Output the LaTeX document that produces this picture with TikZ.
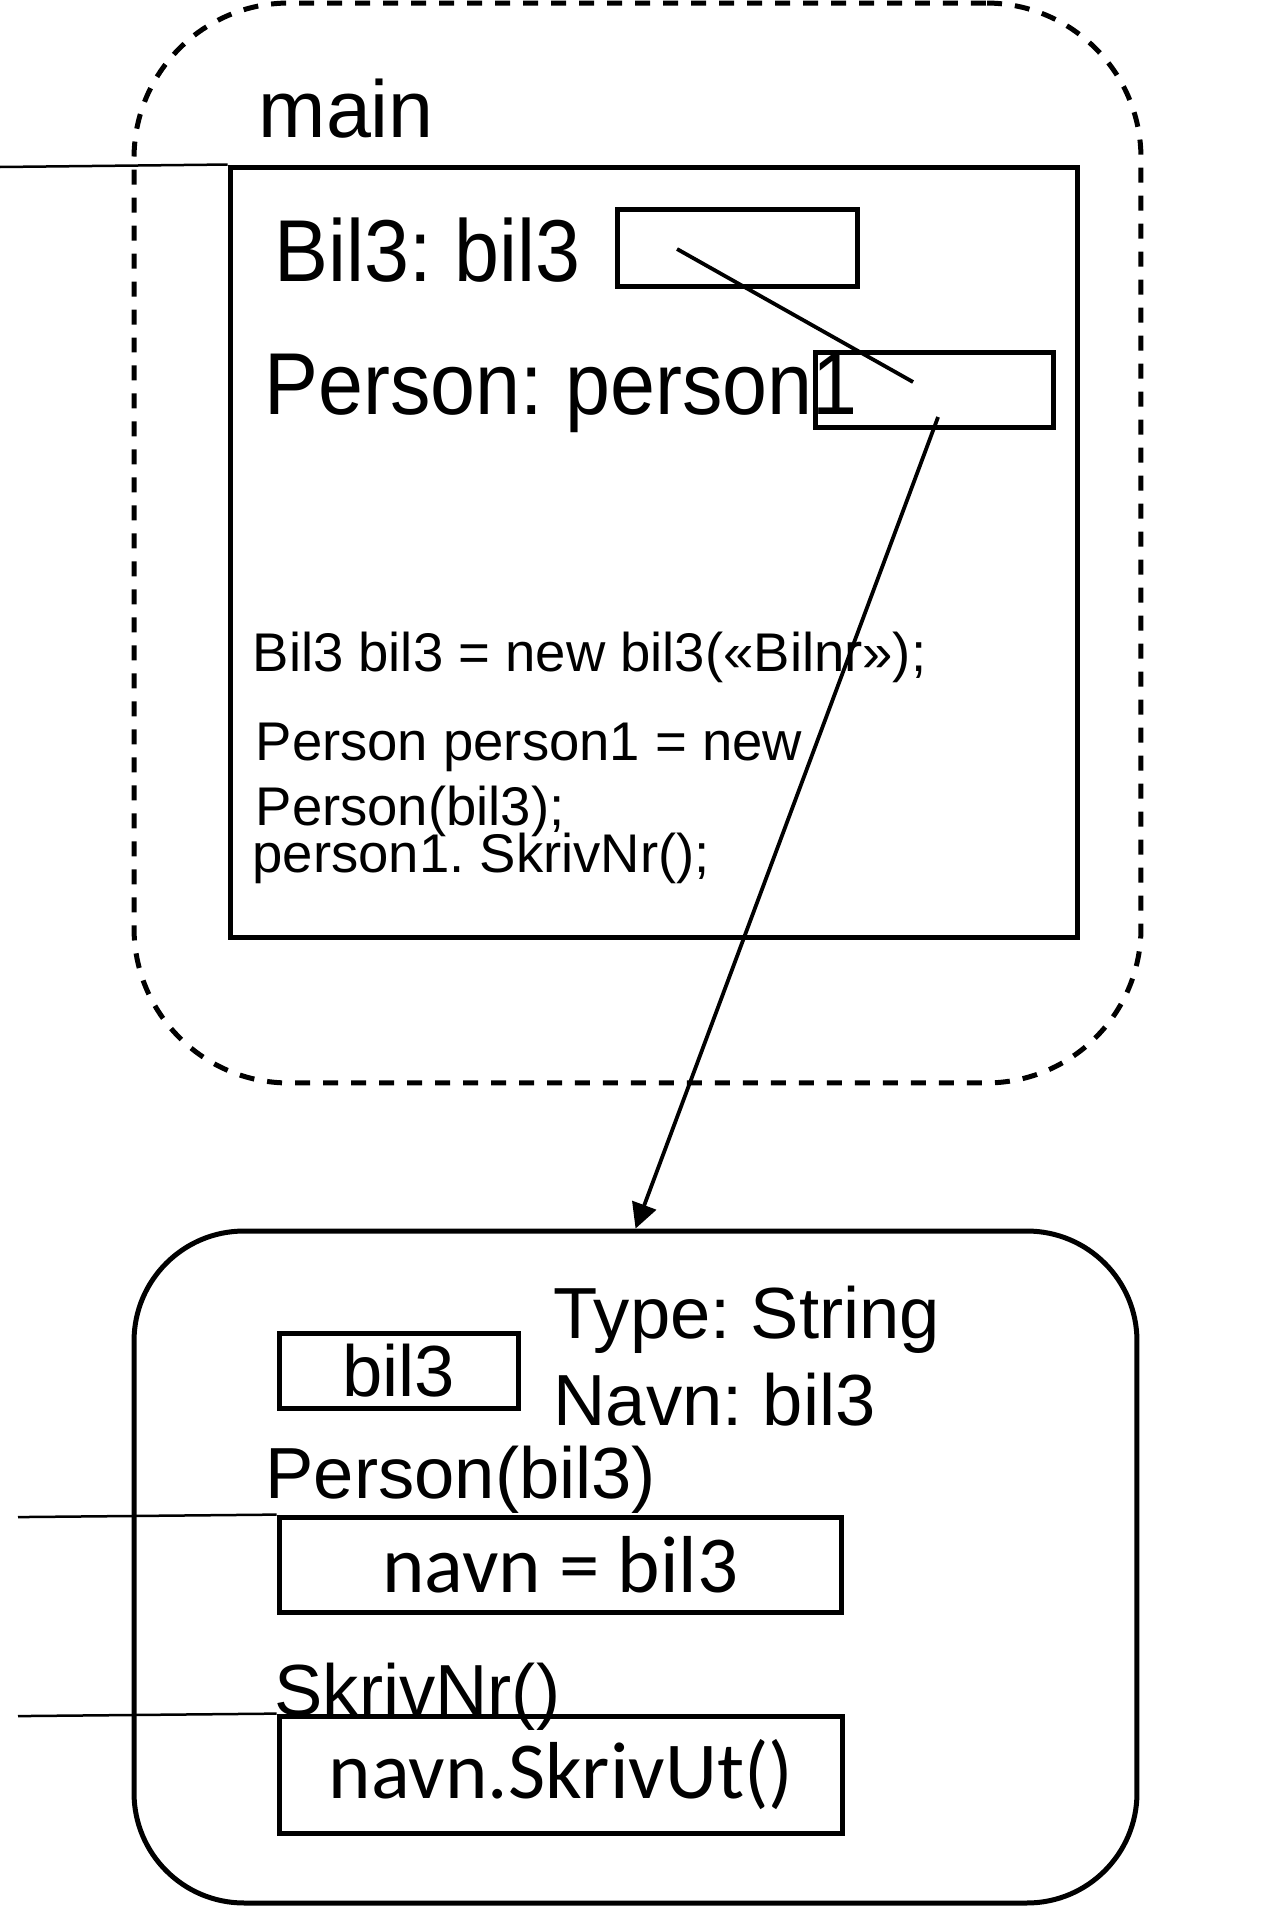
\documentclass[tikz,border=0pt]{standalone}
\usepackage{fontspec}
\setmainfont{Liberation Sans}
\newfontfamily\titlefont{Liberation Sans}[FakeStretch=0.92]
\newfontfamily\calfont{Carlito}
\usetikzlibrary{arrows.meta}
\frenchspacing

\begin{document}
\begin{tikzpicture}[scale=0.1]
\tikzstyle{every node}+=[inner sep=0pt]
\tikzstyle{box}=[draw, line width=0.5mm]
\tikzstyle{lbl}=[anchor=base west]
\tikzstyle{ptr}=[line width=0.38mm]
\tikzstyle{call}=[line width=0.25mm]
\useasboundingbox (0,0) rectangle (127.1,-190.8);
% stack frame for main
\node [box, dash pattern=on 1.5mm off 1.3mm, rounded corners=15.5mm, minimum width=100.7mm, minimum height=108mm] (frame) at (63.75,-54.3) {};
\node [lbl, font=\fontsize{23}{27}\selectfont] (mainlbl) at (25.8,-13.8) {main};
\node [box, minimum width=84.8mm, minimum height=77.1mm] (mainbox) at (65.4,-55.25) {};
\node [lbl, font=\titlefont\fontsize{25}{30}\selectfont] (bil3lbl) at (27.4,-28.2) {Bil3: bil3};
\node [box, minimum width=24mm, minimum height=7.7mm] (bilbox) at (73.7,-24.85) {};
\node [lbl, font=\titlefont\fontsize{25}{30}\selectfont] (personlbl) at (26.4,-41.5) {Person: person1};
\node [box, minimum width=23.8mm, minimum height=7.5mm] (personbox) at (93.4,-39.05) {};
\node [lbl, font=\fontsize{15.5}{18}\selectfont] (code1) at (25.2,-67.1) {Bil3 bil3 = new bil3(«Bilnr»);};
\node [lbl, font=\fontsize{15.5}{18}\selectfont] (code2) at (25.5,-76.0) {Person person1 = new};
\node [lbl, font=\fontsize{15.5}{18}\selectfont] (code3) at (25.5,-82.5) {Person(bil3);};
\node [lbl, font=\fontsize{15.5}{18}\selectfont] (code4) at (25.2,-87.2) {person1. SkrivNr();};
% object on the heap
\node [box, rounded corners=11mm, minimum width=100.3mm, minimum height=67.2mm] (heap) at (63.55,-156.7) {};
\node [box, minimum width=23.9mm, minimum height=7.5mm, font=\fontsize{20.6}{24}\selectfont] (strbox) at (39.85,-137.05) {bil3};
\node [lbl, font=\fontsize{20.6}{24}\selectfont] (typelbl) at (55.3,-133.8) {Type: String};
\node [lbl, font=\fontsize{20.6}{24}\selectfont] (navnlbl) at (55.3,-142.5) {Navn: bil3};
\node [lbl, font=\fontsize{20.6}{24}\selectfont] (ctorlbl) at (26.5,-149.8) {Person(bil3)};
\node [box, minimum width=56.3mm, minimum height=9.5mm, font=\calfont\fontsize{23}{27}\selectfont] (navnbox) at (56.05,-156.45) {navn = bil3};
\node [lbl, font=\fontsize{20.6}{24}\selectfont] (skrivlbl) at (27.4,-171.5) {SkrivNr()};
\node [box, minimum width=56.4mm, minimum height=11.7mm, font=\calfont\fontsize{23}{27}\selectfont] (skrivbox) at (56.1,-177.45) {navn.SkrivUt()};
% calls coming in from the left
\coordinate (callmain) at (0,-16.7);
\coordinate (callperson) at (1.8,-151.7);
\coordinate (callskriv) at (1.8,-171.6);
\draw [call] (callmain) -- (mainbox.north west);
\draw [call] (callperson) -- (navnbox.north west);
\draw [call] (callskriv) -- (skrivbox.north west);
% references
\coordinate (bilref) at (67.7,-24.9);
\coordinate (bilend) at (91.3,-38.2);
\coordinate (personref) at (93.8,-41.7);
\draw [ptr] (bilref) -- (bilend);
\draw [ptr, -{Triangle[length=2.5mm,width=2.5mm]}] (personref) -- (heap.north);
\end{tikzpicture}
\end{document}
